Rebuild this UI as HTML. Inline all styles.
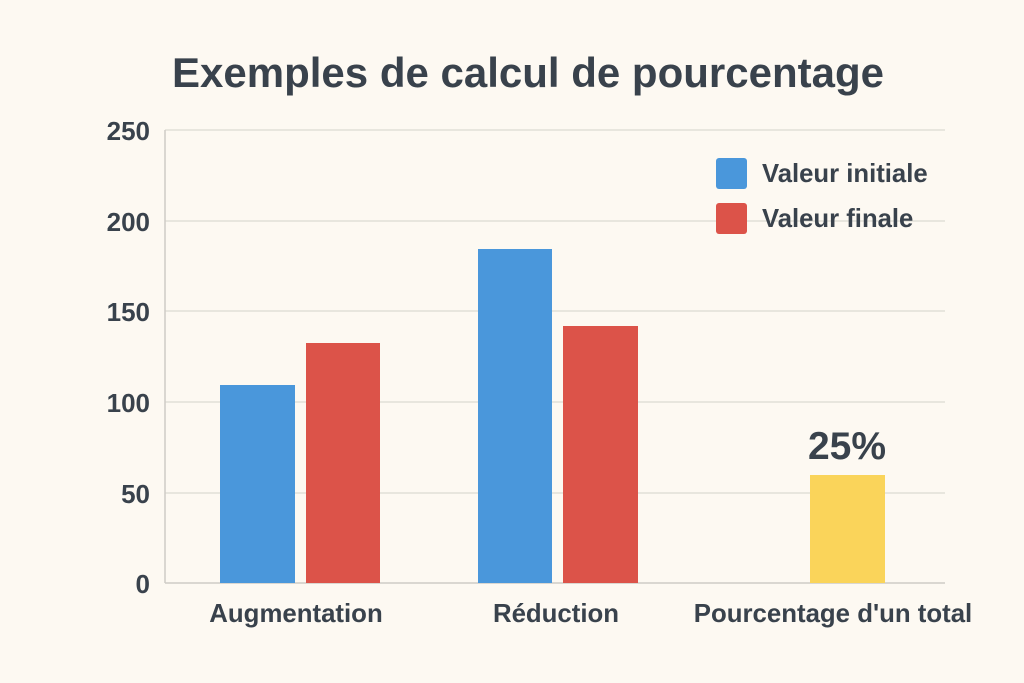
<!DOCTYPE html>
<html><head><style>
body{margin:0;background:#fdf9f2;}
svg{display:block;}
text{font-family:"Liberation Sans",sans-serif;fill:#39424c;}
</style></head><body>
<svg width="1024" height="683" viewBox="0 0 1024 683">
<rect width="1024" height="683" fill="#fdf9f2"/>
<text x="528" y="87" text-anchor="middle" font-size="42" font-weight="bold">Exemples de calcul de pourcentage</text>
<g stroke="#e2dfd8" stroke-width="1.5">
<line x1="165" y1="130" x2="945" y2="130"/>
<line x1="165" y1="221" x2="945" y2="221"/>
<line x1="165" y1="311" x2="945" y2="311"/>
<line x1="165" y1="402" x2="945" y2="402"/>
<line x1="165" y1="493" x2="945" y2="493"/>
</g>
<line x1="165" y1="130" x2="165" y2="583" stroke="#cfccc6" stroke-width="1.5"/>
<line x1="165" y1="583" x2="945" y2="583" stroke="#cfccc6" stroke-width="1.5"/>
<g font-size="26" font-weight="bold" text-anchor="end">
<text x="150" y="140">250</text>
<text x="150" y="231">200</text>
<text x="150" y="321">150</text>
<text x="150" y="412">100</text>
<text x="150" y="503">50</text>
<text x="150" y="593">0</text>
</g>
<rect x="220" y="385" width="75" height="198" fill="#4a97db"/>
<rect x="306" y="343" width="74" height="240" fill="#dc5349"/>
<rect x="478" y="249" width="74" height="334" fill="#4a97db"/>
<rect x="563" y="326" width="75" height="257" fill="#dc5349"/>
<rect x="810" y="475" width="75" height="108" fill="#fad45a"/>
<text x="847" y="459" text-anchor="middle" font-size="39" font-weight="bold">25%</text>
<g font-size="25.8" font-weight="bold" text-anchor="middle">
<text x="296" y="622">Augmentation</text>
<text x="556" y="622">Réduction</text>
<text x="833" y="622">Pourcentage d'un total</text>
</g>
<rect x="716" y="158" width="31" height="31" rx="3" fill="#4a97db"/>
<rect x="716" y="203" width="31" height="31" rx="3" fill="#dc5349"/>
<g font-size="25.7" font-weight="bold">
<text x="762" y="182">Valeur initiale</text>
<text x="762" y="227">Valeur finale</text>
</g>
</svg>
</body></html>
